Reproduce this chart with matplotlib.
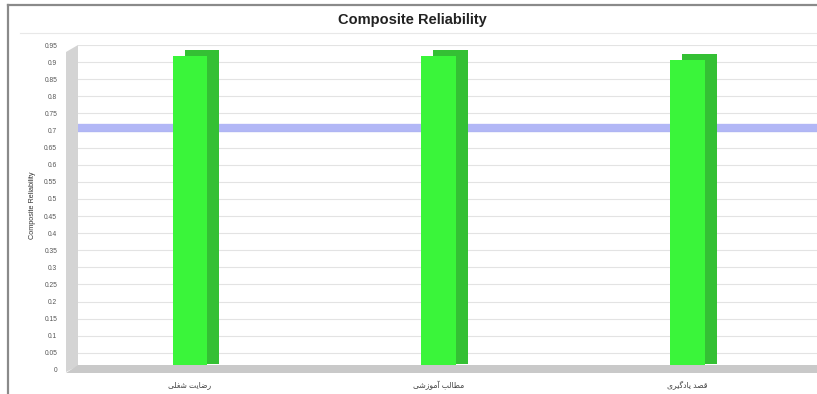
import matplotlib
matplotlib.use("Agg")
import matplotlib.pyplot as plt
import matplotlib.transforms as mtransforms
from matplotlib.patches import Polygon
import numpy as np

# ---- data ----
categories = ["رضایت شغلی", "مطالب آموزشی", "قصد یادگیری"]
values = [0.917, 0.918, 0.907]
threshold = 0.708
yticks = [0, 0.05, 0.1, 0.15, 0.2, 0.25, 0.3, 0.35, 0.4, 0.45, 0.5,
          0.55, 0.6, 0.65, 0.7, 0.75, 0.8, 0.85, 0.9, 0.95]
ytick_labels = ["0", "0.05", "0.1", "0.15", "0.2", "0.25", "0.3", "0.35", "0.4",
                "0.45", "0.5", "0.55", "0.6", "0.65", "0.7", "0.75", "0.8",
                "0.85", "0.9", "0.95"]
title = "Composite Reliability"
ylabel = "Composite Reliability"

# ---- simple Arabic/Persian shaping (presentation forms, visual order) ----
FORMS = {
    'ا': ('\uFE8D', '\uFE8E', None, None),
    'آ': ('\uFE81', '\uFE82', None, None),
    'ب': ('\uFE8F', '\uFE90', '\uFE91', '\uFE92'),
    'ت': ('\uFE95', '\uFE96', '\uFE97', '\uFE98'),
    'د': ('\uFEA9', '\uFEAA', None, None),
    'ر': ('\uFEAD', '\uFEAE', None, None),
    'ز': ('\uFEAF', '\uFEB0', None, None),
    'ش': ('\uFEB5', '\uFEB6', '\uFEB7', '\uFEB8'),
    'ص': ('\uFEB9', '\uFEBA', '\uFEBB', '\uFEBC'),
    'ض': ('\uFEBD', '\uFEBE', '\uFEBF', '\uFEC0'),
    'ط': ('\uFEC1', '\uFEC2', '\uFEC3', '\uFEC4'),
    'غ': ('\uFECD', '\uFECE', '\uFECF', '\uFED0'),
    'ق': ('\uFED5', '\uFED6', '\uFED7', '\uFED8'),
    'ل': ('\uFEDD', '\uFEDE', '\uFEDF', '\uFEE0'),
    'م': ('\uFEE1', '\uFEE2', '\uFEE3', '\uFEE4'),
    'و': ('\uFEED', '\uFEEE', None, None),
    'ی': ('\uFBFC', '\uFBFD', '\uFBFE', '\uFBFF'),
    'گ': ('\uFB92', '\uFB93', '\uFB94', '\uFB95'),
}


def shape(text):
    out = []
    n = len(text)
    for i, ch in enumerate(text):
        if ch not in FORMS:
            out.append(ch)
            continue
        iso, fin, ini, med = FORMS[ch]
        prev = text[i - 1] if i > 0 else None
        nxt = text[i + 1] if i < n - 1 else None
        jp = prev in FORMS and FORMS[prev][2] is not None
        jn = nxt in FORMS and ini is not None
        if jp and jn:
            out.append(med)
        elif jp:
            out.append(fin)
        elif jn:
            out.append(ini)
        else:
            out.append(iso)
    return "".join(out)[::-1]


FAM = ["Liberation Sans", "DejaVu Sans"]

W, H = 817, 394
fig = plt.figure(figsize=(W / 100, H / 100), dpi=100)
fig.patch.set_facecolor("white")

ax_l, ax_r, ax_b, ax_t = 78, 817, 370, 45
ax = fig.add_axes([ax_l / W, 1 - ax_b / H, (ax_r - ax_l) / W, (ax_b - ax_t) / H])
ax.set_facecolor("white")

x = np.arange(len(categories))
bw = 0.14

# grid lines
for yt in yticks[1:]:
    ax.axhline(yt, color="#e3e3e3", lw=0.8, zorder=0)

# threshold line
ax.axhline(threshold, color="#aab0f5", lw=6, alpha=0.9, zorder=1, solid_capstyle="butt")

# 3D bars: darker back copy offset, then front face
off = mtransforms.ScaledTranslation(12 / 100, 6 / 100, fig.dpi_scale_trans)
ax.bar(x, values, width=bw, color="#34c034", transform=ax.transData + off,
       zorder=2, clip_on=False)
ax.bar(x, values, width=bw, color="#3af53a", zorder=3, clip_on=False)

ax.set_xlim(-0.45, 2.52)
ax.set_ylim(0, 0.95)
for s in ax.spines.values():
    s.set_visible(False)
ax.set_yticks(yticks)
ax.set_yticklabels(ytick_labels, fontsize=4.8, color="#555555", family=FAM)
ax.tick_params(axis="y", length=0, pad=15)
ax.set_xticks(x)
ax.set_xticklabels([shape(c) for c in categories], fontsize=5.5, color="#444444",
                   family=FAM)
ax.tick_params(axis="x", length=0, pad=8)

# left wall and floor (figure coords)
wall = Polygon([[66 / W, 1 - 372 / H], [66 / W, 1 - 52 / H], [78 / W, 1 - 45 / H],
                [78 / W, 1 - 366 / H]], closed=True, transform=fig.transFigure,
               facecolor="#d4d4d4", edgecolor="none", zorder=0)
fig.patches.append(wall)
floor = Polygon([[66 / W, 1 - 373 / H], [78 / W, 1 - 365 / H], [817 / W, 1 - 365 / H],
                 [817 / W, 1 - 373 / H]], closed=True, transform=fig.transFigure,
                facecolor="#c9c9c9", edgecolor="none", zorder=1)
fig.patches.append(floor)

# outer frame lines
fig.add_artist(plt.Line2D([8 / W, 1], [1 - 5 / H, 1 - 5 / H], transform=fig.transFigure,
                          color="#8a8a8a", lw=1.6))
fig.add_artist(plt.Line2D([8 / W, 8 / W], [0, 1 - 5 / H], transform=fig.transFigure,
                          color="#8a8a8a", lw=1.6))
fig.add_artist(plt.Line2D([20 / W, 1], [1 - 33 / H, 1 - 33 / H], transform=fig.transFigure,
                          color="#e8e8e8", lw=0.8))

fig.text(412 / W, 1 - 20 / H, title, ha="center", va="center", fontsize=10.5,
         fontweight="bold", color="#222222", family=FAM)
fig.text(33 / W, 1 - 205 / H, ylabel, ha="center", va="center", rotation=90,
         fontsize=5.2, color="#333333", family=FAM)

fig.savefig("out.png", dpi=100, facecolor="white")
